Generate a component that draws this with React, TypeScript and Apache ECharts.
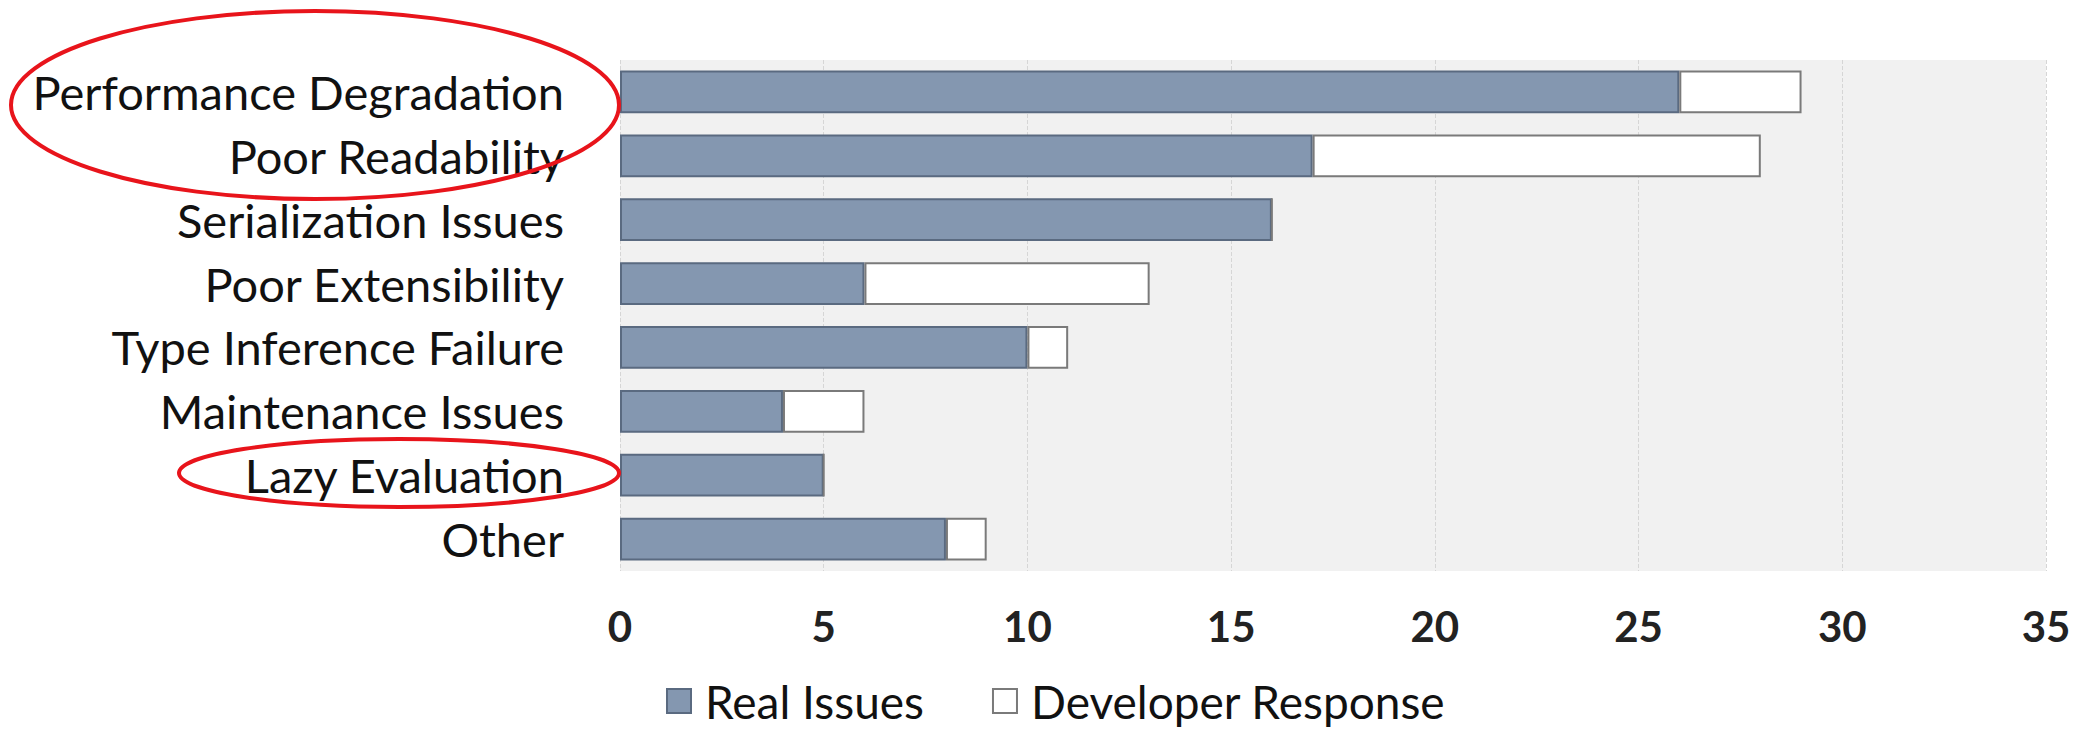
import React, { useEffect, useRef } from "react";
import * as echarts from "echarts";

// Issue categories, top to bottom
const categories = [
  "Performance Degradation",
  "Poor Readability",
  "Serialization Issues",
  "Poor Extensibility",
  "Type Inference Failure",
  "Maintenance Issues",
  "Lazy Evaluation",
  "Other",
];

// Counts per category
const realIssues = [26, 17, 16, 6, 10, 4, 5, 8];
const developerResponse = [3, 11, 0, 7, 1, 2, 0, 1];

const xTicks = { min: 0, max: 35, interval: 5 };

const FONT = "Lato, 'Open Sans', sans-serif";

export default function App() {
  const ref = useRef<HTMLDivElement>(null);

  useEffect(() => {
    document.body.style.margin = "0";
    const chart = echarts.init(ref.current!, null, { renderer: "svg" });
    chart.setOption({
      animation: false,
      backgroundColor: "#ffffff",
      grid: {
        left: 620,
        right: 41,
        top: 60,
        height: 511,
        show: true,
        backgroundColor: "#f1f1f1",
        borderWidth: 0,
      },
      legend: {
        left: 661,
        top: 673,
        itemWidth: 24,
        itemHeight: 24,
        itemGap: 68,
        icon: "rect",
        textStyle: {
          fontFamily: FONT,
          fontSize: 46,
          color: "#111111",
          padding: [0, 0, 0, 9],
        },
        data: ["Real Issues", "Developer Response"],
      },
      xAxis: {
        type: "value",
        min: xTicks.min,
        max: xTicks.max,
        interval: xTicks.interval,
        axisLine: { show: false },
        axisTick: { show: false },
        splitLine: {
          show: true,
          lineStyle: { color: "#d6d6d6", type: "dashed", width: 1 },
        },
        axisLabel: {
          margin: 34,
          fontFamily: FONT,
          fontWeight: "bold",
          fontSize: 42,
          color: "#222222",
        },
      },
      yAxis: {
        type: "category",
        inverse: true,
        data: categories,
        axisLine: { show: false },
        axisTick: { show: false },
        splitLine: { show: false },
        axisLabel: {
          margin: 56,
          fontFamily: FONT,
          fontSize: 47,
          color: "#111111",
        },
      },
      series: [
        {
          name: "Real Issues",
          type: "bar",
          stack: "total",
          barCategoryGap: "33%",
          data: realIssues,
          itemStyle: {
            color: "#8497b0",
            borderColor: "#5a6a80",
            borderWidth: 2,
          },
        },
        {
          name: "Developer Response",
          type: "bar",
          stack: "total",
          barCategoryGap: "33%",
          data: developerResponse,
          itemStyle: {
            color: "#ffffff",
            borderColor: "#7a7a7a",
            borderWidth: 2,
          },
        },
      ],
      graphic: [
        {
          type: "ellipse",
          shape: { cx: 315, cy: 105, rx: 304, ry: 94 },
          style: { fill: "none", stroke: "#e8141b", lineWidth: 4 },
          z: 100,
        },
        {
          type: "ellipse",
          shape: { cx: 399, cy: 473, rx: 220, ry: 34 },
          style: { fill: "none", stroke: "#e8141b", lineWidth: 4 },
          z: 100,
        },
      ],
    });
    return () => chart.dispose();
  }, []);

  return <div ref={ref} style={{ width: 2087, height: 733 }} />;
}
